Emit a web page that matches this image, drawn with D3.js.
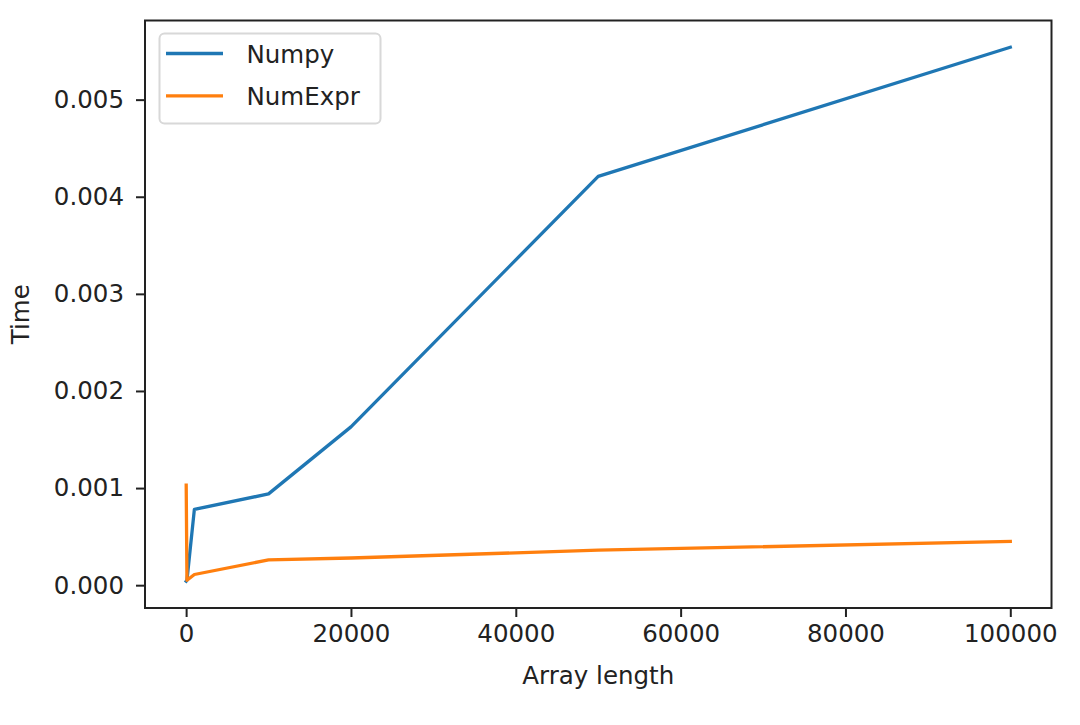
<!DOCTYPE html>
<html>
<head>
<meta charset="utf-8">
<script src="https://cdn.jsdelivr.net/npm/d3@7"></script>
<style>
  html, body { margin: 0; padding: 0; background: #fff; }
  svg { display: block; font-family: "DejaVu Sans", sans-serif; }
</style>
</head>
<body>
<svg id="chart" width="1080" height="725"></svg>
<script>
const lengths = [10, 100, 1000, 10000, 20000, 50000, 100000];
const numpyTimes = [0.00004, 0.00005, 0.00078, 0.00094, 0.00163, 0.00421, 0.00554];
const numexprTimes = [0.00103, 0.00005, 0.00011, 0.00026, 0.00028, 0.00036, 0.00045];
const seriesNames = ["Numpy", "NumExpr"];
const seriesColors = ["#1f77b4", "#ff7f0e"];
const xTicks = [0, 20000, 40000, 60000, 80000, 100000];
const yTicks = [0, 0.001, 0.002, 0.003, 0.004, 0.005];
const xLabel = "Array length";
const yLabel = "Time";

const svg = d3.select("#chart");
const L = 145, R = 1051.5, T = 20.5, B = 608;

const xMin = d3.min(lengths), xMax = d3.max(lengths);
const xPad = (xMax - xMin) * 0.05;
const allY = numpyTimes.concat(numexprTimes);
const yMin = d3.min(allY), yMax = d3.max(allY);
const yPad = (yMax - yMin) * 0.05;

const x = d3.scaleLinear().domain([xMin - xPad, xMax + xPad]).range([L, R]);
const y = d3.scaleLinear().domain([yMin - yPad, yMax + yPad]).range([B, T]);

const fontSize = 24.5;

// axes
const xAxis = svg.append("g").attr("transform", `translate(0,${B})`)
  .call(d3.axisBottom(x).tickValues(xTicks).tickFormat(d3.format("d")).tickSize(9).tickPadding(8));
const yAxis = svg.append("g").attr("transform", `translate(${L},0)`)
  .call(d3.axisLeft(y).tickValues(yTicks).tickFormat(d3.format(".3f")).tickSize(9).tickPadding(12));
[xAxis, yAxis].forEach(a => {
  a.select(".domain").remove();
  a.selectAll(".tick line").attr("stroke", "#222").attr("stroke-width", 2);
  a.selectAll(".tick text").attr("fill", "#222").style("font-size", fontSize + "px")
    .style("font-family", "DejaVu Sans, sans-serif");
});

// lines
const series = [numpyTimes, numexprTimes];
const line = d3.line().x((d, i) => x(lengths[i])).y(d => y(d));
series.forEach((s, k) => {
  svg.append("path").datum(s)
    .attr("fill", "none").attr("stroke", seriesColors[k])
    .attr("stroke-width", 3.3).attr("stroke-linejoin", "round").attr("stroke-linecap", "square")
    .attr("d", line);
});

// frame
svg.append("rect").attr("x", L).attr("y", T).attr("width", R - L).attr("height", B - T)
  .attr("fill", "none").attr("stroke", "#222").attr("stroke-width", 2);

// axis labels
svg.append("text").attr("x", (L + R) / 2).attr("y", 684).attr("text-anchor", "middle")
  .attr("fill", "#222").style("font-size", fontSize + "px").text(xLabel);
svg.append("text").attr("transform", `translate(29,${(T + B) / 2}) rotate(-90)`)
  .attr("text-anchor", "middle").attr("fill", "#222").style("font-size", fontSize + "px").text(yLabel);

// legend
const lg = svg.append("g");
lg.append("rect").attr("x", 159.5).attr("y", 33.5).attr("width", 221).attr("height", 90)
  .attr("rx", 5).attr("fill", "#fff").attr("fill-opacity", 0.8)
  .attr("stroke", "#d8d8d8").attr("stroke-width", 2);
seriesNames.forEach((n, k) => {
  const yy = 53.5 + k * 42.3;
  lg.append("line").attr("x1", 166).attr("x2", 223).attr("y1", yy).attr("y2", yy)
    .attr("stroke", seriesColors[k]).attr("stroke-width", 3.3);
  lg.append("text").attr("x", 246.5).attr("y", yy + 9).attr("fill", "#222")
    .style("font-size", fontSize + "px").text(n);
});
</script>
</body>
</html>
